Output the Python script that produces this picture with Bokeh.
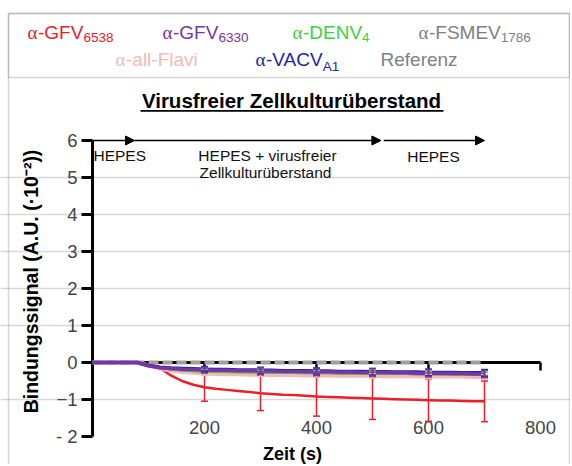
import math
from bokeh.plotting import figure
from bokeh.models import (Range1d, FixedTicker, LinearAxis, Label, Arrow, NormalHead,
                          Whisker, TeeHead, ColumnDataSource, BoxAnnotation)
from bokeh.embed import file_html
from bokeh.resources import INLINE

# ---------------- data ----------------
time_s = list(range(0, 701, 20))
gfv6538 = [0, 0, 0, 0, 0, -0.05, -0.15, -0.35, -0.50, -0.60, -0.67, -0.71, -0.74, -0.77, -0.80, -0.83, -0.85, -0.87,
           -0.88, -0.90, -0.92, -0.93, -0.94, -0.95, -0.96, -0.97, -0.98, -0.99, -1.00, -1.01, -1.02, -1.03, -1.03,
           -1.04, -1.05, -1.05]
gfv6330 = [0, 0, 0, 0, 0, -0.09, -0.14, -0.16, -0.18, -0.19, -0.20, -0.21, -0.21, -0.22, -0.22, -0.23, -0.23, -0.24,
           -0.24, -0.25, -0.25, -0.25, -0.26, -0.26, -0.27, -0.27, -0.27, -0.28, -0.28, -0.29, -0.29, -0.29, -0.30,
           -0.30, -0.31, -0.31]
denv4 = [0, 0, 0, 0, 0, -0.07, -0.14, -0.18, -0.20, -0.22, -0.23, -0.24, -0.24, -0.25, -0.25, -0.26, -0.26, -0.27,
         -0.27, -0.27, -0.28, -0.28, -0.28, -0.29, -0.29, -0.29, -0.29, -0.30, -0.30, -0.30, -0.31, -0.31, -0.31,
         -0.32, -0.32, -0.32]
fsmev1786 = [0, 0, 0, 0, 0, -0.07, -0.13, -0.17, -0.20, -0.22, -0.23, -0.24, -0.25, -0.25, -0.26, -0.26, -0.27, -0.27,
             -0.27, -0.28, -0.28, -0.28, -0.29, -0.29, -0.29, -0.29, -0.30, -0.30, -0.30, -0.31, -0.31, -0.31, -0.31,
             -0.32, -0.32, -0.32]
allflavi = [0, 0, 0, 0, 0, -0.08, -0.16, -0.22, -0.26, -0.28, -0.30, -0.31, -0.32, -0.32, -0.33, -0.33, -0.34, -0.34,
            -0.34, -0.35, -0.35, -0.35, -0.36, -0.36, -0.36, -0.36, -0.37, -0.37, -0.37, -0.37, -0.38, -0.38, -0.38,
            -0.38, -0.39, -0.39]
vacva1 = [0, 0, 0, 0, 0, -0.08, -0.13, -0.15, -0.16, -0.17, -0.18, -0.19, -0.19, -0.20, -0.20, -0.21, -0.21, -0.22,
          -0.22, -0.22, -0.23, -0.23, -0.24, -0.24, -0.24, -0.25, -0.25, -0.26, -0.26, -0.26, -0.27, -0.27, -0.27,
          -0.28, -0.28, -0.28]
referenz = [0, 0, 0, 0, 0, 0, 0, 0, 0, 0, 0, 0, 0, 0, 0, 0, 0, 0,
            0, 0, 0, 0, 0, 0, 0, 0, 0, 0, 0, 0, 0, 0, 0, 0, 0, 0]

err_times = [200, 300, 400, 500, 600, 700]
err_gfv6538 = [0.38, 0.47, 0.53, 0.57, 0.57, 0.55]
err_gfv6330 = [0.08, 0.09, 0.10, 0.10, 0.10, 0.10]
err_vacva1 = [0.07, 0.08, 0.08, 0.09, 0.09, 0.09]
err_denv4 = [0.05, 0.05, 0.06, 0.06, 0.06, 0.06]
err_allflavi = [0.05, 0.05, 0.05, 0.06, 0.06, 0.06]

x_ticks = [200, 400, 600, 800]
y_ticks = [-2, -1, 0, 1, 2, 3, 4, 5, 6]
grid_ticks = [-1, 1, 2, 3, 4, 5]
x_bounds = (0, 800)
y_bounds = (-2, 6)
phases = [(0, 75), (75, 515), (520, 700)]

# ---------------- styling / layout constants ----------------
C_RED = "#E8202A"
C_PURPLE = "#7A32A8"
C_GREEN = "#3DD23D"
C_GRAY = "#808080"
C_PINK = "#F7B8B8"
C_BLUE = "#2222B0"
C_REF = "#A0A0A0"
C_BORDER = "#777777"

FONT = "Liberation Sans"
SERIF = "Liberation Serif"

W, H = 570, 464          # canvas = frame
X0_PX, PX_PER_X = 92, 0.56
Y0_PX, PX_PER_Y = 362, 37.0

# approximate advance widths (em) of Liberation Sans, for placing subscripts
CHAR_EM = {"-": 0.333, "G": 0.778, "F": 0.611, "V": 0.667, "D": 0.722, "E": 0.667, "N": 0.722,
           "S": 0.667, "M": 0.833, "A": 0.667, "C": 0.722}
KERN_EM = {"VA": -0.074, "AV": -0.074}


def text_width(s, size):
    w = sum(CHAR_EM.get(c, 0.55) for c in s)
    w += sum(KERN_EM.get(s[i:i + 2], 0) for i in range(len(s) - 1))
    return w * size


def dx(px):   # canvas pixel -> data x
    return (px - X0_PX) / PX_PER_X


def dy(py):   # canvas pixel -> data y
    return (Y0_PX - py) / PX_PER_Y


p = figure(width=W, height=H, output_backend="svg", toolbar_location=None,
           x_range=Range1d(dx(0), dx(W)), y_range=Range1d(dy(H), dy(0)),
           min_border_left=0, min_border_right=0, min_border_top=0, min_border_bottom=0,
           x_axis_location=None, y_axis_location=None, outline_line_color=None)
p.background_fill_color = "white"
p.border_fill_color = "white"

p.xgrid.visible = False
p.ygrid.ticker = FixedTicker(ticks=grid_ticks)
p.ygrid.bounds = x_bounds
p.ygrid.grid_line_color = "#D8D8D8"
p.ygrid.grid_line_width = 1.5

# y axis at x = 0
yax = LinearAxis(ticker=FixedTicker(ticks=y_ticks), fixed_location=0, bounds=y_bounds)
yax.axis_line_width = 3
yax.axis_line_color = "black"
yax.major_tick_line_width = 3
yax.major_tick_out = 11
yax.major_tick_in = 0
yax.minor_tick_line_color = None
yax.major_label_text_font = FONT
yax.major_label_text_font_size = "18.5px"
yax.major_label_standoff = 4
yax.major_label_overrides = {-2: "- 2"}
p.add_layout(yax, "left")

# x axis line with ticks at y = 0
xtk = LinearAxis(ticker=FixedTicker(ticks=x_ticks), fixed_location=0, bounds=x_bounds)
xtk.axis_line_width = 3
xtk.axis_line_color = "black"
xtk.major_tick_line_width = 2.5
xtk.major_tick_out = 8
xtk.major_tick_in = 0
xtk.minor_tick_line_color = None
xtk.major_label_text_alpha = 0
xtk.major_label_text_font_size = "1px"
p.add_layout(xtk, "below")

# x tick labels near the bottom
xlab = LinearAxis(ticker=FixedTicker(ticks=x_ticks), fixed_location=-1.42)
xlab.axis_line_color = None
xlab.major_tick_line_color = None
xlab.minor_tick_line_color = None
xlab.major_label_text_font = FONT
xlab.major_label_text_font_size = "18.5px"
xlab.major_label_standoff = 0
p.add_layout(xlab, "below")

# ---------------- series ----------------
p.line(time_s, referenz, line_color=C_REF, line_width=4, line_dash="10 4", level="overlay")
p.line(time_s, gfv6538, line_color=C_RED, line_width=2.5, level="overlay")
p.line(time_s, allflavi, line_color=C_PINK, line_width=4, level="overlay")
p.line(time_s, fsmev1786, line_color=C_GRAY, line_width=3, level="overlay")
p.line(time_s, denv4, line_color=C_GREEN, line_width=3, level="overlay")
p.line(time_s, vacva1, line_color=C_BLUE, line_width=3.5, level="overlay")
p.line(time_s, gfv6330, line_color=C_PURPLE, line_width=3.5, level="overlay")


def add_err(series, errs, color, width):
    centers = [series[time_s.index(t)] for t in err_times]
    src = ColumnDataSource(dict(x=err_times,
                                lower=[c - e for c, e in zip(centers, errs)],
                                upper=[c + e for c, e in zip(centers, errs)]))
    w = Whisker(base="x", lower="lower", upper="upper", source=src, dimension="height",
                line_color=color, line_width=width, level="overlay",
                upper_head=TeeHead(size=7, line_color=color, line_width=width),
                lower_head=TeeHead(size=7, line_color=color, line_width=width))
    p.add_layout(w)


add_err(gfv6538, err_gfv6538, C_RED, 1.5)
add_err(allflavi, err_allflavi, C_PINK, 1.5)
add_err(denv4, err_denv4, C_GREEN, 1.5)
add_err(vacva1, err_vacva1, C_BLUE, 1.5)
add_err(gfv6330, err_gfv6330, C_PURPLE, 1.5)

# ---------------- phase arrows & texts ----------------
for a, b in phases:
    p.add_layout(Arrow(x_start=a, y_start=y_bounds[1], x_end=b, y_end=y_bounds[1], line_color="black",
                       line_width=1.3, end=NormalHead(size=9, fill_color="black", line_color="black")))


def ptext(px, py, t, align="left", size="15.5px", bold=False, color="#111111", font=FONT, angle=0.0):
    # py is the vertical centre of the text (canvas pixels)
    p.add_layout(Label(x=dx(px), y=dy(py), text=t, text_font=font, text_font_size=size,
                       text_font_style="bold" if bold else "normal", angle=angle,
                       text_align=align, text_baseline="middle", text_color=color))


ptext(93, 155, "HEPES")
ptext(267, 155, "HEPES + virusfreier", "center")
ptext(265, 172, "Zellkulturüberstand", "center")
ptext(433, 156, "HEPES", "center")

# ---------------- title, axis titles ----------------
ptext(291, 100, "Virusfreier Zellkulturüberstand", "center", "20.5px", True, "black")
p.add_layout(BoxAnnotation(left=dx(140), right=dx(443), top=dy(109.5), bottom=dy(111.2),
                           fill_color="black", fill_alpha=1, line_color=None))
ptext(292, 453, "Zeit (s)", "center", "18px", True, "black")
ptext(30, 281, "Bindungssignal (A.U. (·10⁻²))", "center", "19.5px", True, "black", angle=math.pi / 2)

# ---------------- border box and legend separator ----------------
p.add_layout(BoxAnnotation(left=dx(8), right=dx(569), top=dy(13), bottom=dy(H + 20), fill_alpha=0,
                           line_color=C_BORDER, line_width=1.5))
p.add_layout(BoxAnnotation(left=dx(8), right=dx(569), top=dy(13), bottom=dy(77), fill_alpha=0,
                           line_color=C_BORDER, line_width=1.5))

# ---------------- legend (coloured text) ----------------
MAIN_PX = 19.0
legend_entries = [
    # alpha x, text centre y, color, main text, subscript, subscript centre y
    (27, 32, C_RED, "-GFV", "6538", 37),
    (162, 32, C_PURPLE, "-GFV", "6330", 37),
    (292, 32, C_GREEN, "-DENV", "4", 37),
    (418, 32, C_GRAY, "-FSMEV", "1786", 37),
    (115, 59, C_PINK, "-all-Flavi", "", 0),
    (255, 59, C_BLUE, "-VACV", "A1", 66),
]
for x, yc, col, main, sub, sy in legend_entries:
    ptext(x, yc, "α", size="19px", color=col, font=SERIF)
    ptext(x + 10.5, yc, main, size=f"{MAIN_PX}px", color=col)
    if sub:
        sx = x + 10.5 + text_width(main, MAIN_PX)
        ptext(sx, sy, sub, size="13.5px", color=col)
ptext(380, 59, "Referenz", size=f"{MAIN_PX}px", color=C_GRAY)

open("out.html", "w").write(file_html(p, INLINE))
